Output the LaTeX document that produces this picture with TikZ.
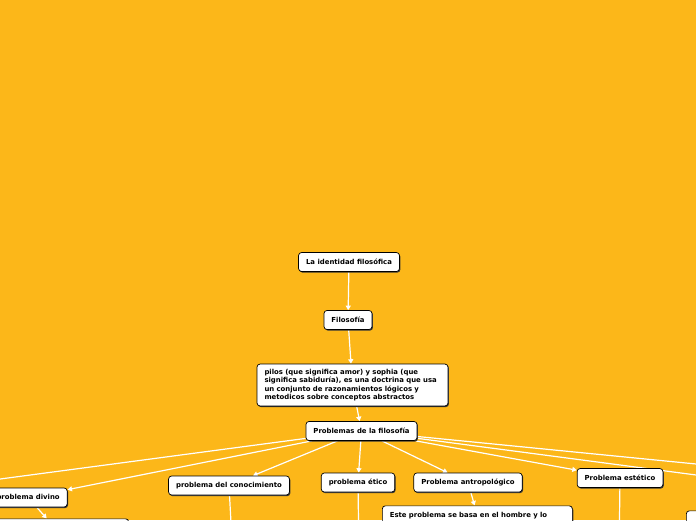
\documentclass[tikz,border=0pt]{standalone}
\usepackage{fontspec}
\setmainfont{DejaVu Sans}
\usetikzlibrary{arrows.meta,positioning,shadows,backgrounds}
\definecolor{mmorange}{RGB}{252,183,25}
\definecolor{mmshadow}{RGB}{55,55,55}

\begin{document}
\begin{tikzpicture}[
  x=1pt, y=-1pt,
  every node/.style={font=\fontsize{6.9}{8.4}\selectfont\bfseries},
  topic/.style={draw=black,fill=white,rounded corners=3pt,line width=0.7pt,
                minimum height=19pt,inner xsep=7.5pt,inner ysep=2pt,
                drop shadow={shadow xshift=0.9pt,shadow yshift=-1.1pt,fill=mmshadow,opacity=1}},
  link/.style={white,line width=1.2pt},
  arr/.style={link,-{Triangle[length=4.5pt,width=5pt]}},
]
  \useasboundingbox (0,0) rectangle (696,520);
  \clip (0,0) rectangle (696,520);

  % Main chain
  \node[topic] (lif) at (349,262) {La identidad filosófica};
  \node[topic] (fil) at (348,320) {Filosofía};
  \node[topic,align=left,text width=176pt,inner ysep=5pt] (def) at (352.5,385)
    {pilos (que significa amor) y sophia (que\\
     significa sabiduría), es una doctrina que usa\\
     un conjunto de razonamientos lógicos y\\
     metodicos sobre conceptos abstractos};
  \node[topic] (pro) at (361.5,431) {Problemas de la filosofía};

  % Problems
  \node[topic,anchor=east] (div) at (67.5,497.5) {problema divino};
  \node[topic] (con) at (229,485.5) {problema del conocimiento};
  \node[topic] (eti) at (358,482.5) {problema ético};
  \node[topic] (ant) at (468,482.5) {Problema antropológico};
  \node[topic] (est) at (620,478) {Problema estético};

  % Sub topics (cut by the bottom edge)
  \node[topic,anchor=north east,minimum width=142pt,minimum height=24pt] (dch) at (129,518.5) {};
  \node[topic,anchor=north west,minimum width=190pt,align=left,text width=175pt,inner ysep=5pt]
    (hom) at (382,505.5) {Este problema se basa en el hombre y lo};
  \node[topic,anchor=north west,minimum width=100pt,minimum height=24pt] (rgt) at (686,510.5) {};

  % Off-page ends
  \coordinate (offl) at (-60,487);
  \coordinate (offa) at (760,470.3);
  \coordinate (offb) at (760,483.4);
  \coordinate (conb) at (233,560);
  \coordinate (etib) at (359,560);
  \coordinate (estb) at (619,560);

  % Connections
  \begin{scope}[on background layer]
    \fill[mmorange] (0,0) rectangle (696,520);
    \clip (0,0) rectangle (696,520);
    \draw[arr] (lif) -- (fil);
    \draw[arr] (fil) -- (def);
    \draw[arr] (def) -- (pro);
    \draw[arr] (pro) -- (div);
    \draw[arr] (pro) -- (con);
    \draw[arr] (pro) -- (eti);
    \draw[arr] (pro) -- (ant);
    \draw[arr] (pro) -- (est);
    \draw[link] (pro) -- (offl);
    \draw[link] (pro) -- (offa);
    \draw[link] (pro) -- (offb);
    \draw[arr] (div) -- (dch);
    \draw[arr] (ant) -- (hom);
    \draw[link] (con) -- (conb);
    \draw[link] (eti) -- (etib);
    \draw[link] (est) -- (estb);
  \end{scope}
\end{tikzpicture}
\end{document}
